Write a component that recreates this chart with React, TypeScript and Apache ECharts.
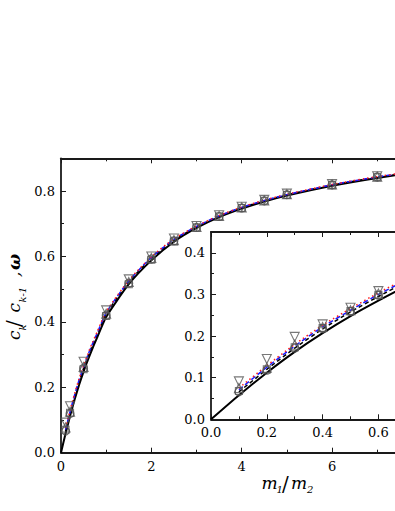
import React, { useEffect, useRef } from "react";
import * as echarts from "echarts";

// ---------- data ----------
// theory (black solid)
const xTheory = [0, 0.1, 0.2, 0.3, 0.4, 0.5, 0.6, 0.7, 0.8, 1, 1.5, 2, 2.5, 3, 3.5, 4, 4.5, 5, 6, 7, 8];
const yTheory = [0, 0.058, 0.112, 0.162, 0.207, 0.248, 0.285, 0.32, 0.352, 0.415, 0.515, 0.588, 0.645, 0.687, 0.72, 0.746, 0.768, 0.786, 0.816, 0.84, 0.86];
// simulation curves
const xSim = [0.1, 0.2, 0.3, 0.4, 0.5, 0.6, 0.7, 0.8, 1, 1.5, 2, 2.5, 3, 3.5, 4, 4.5, 5, 6, 7, 8];
const yBlackDashed = [0.066, 0.12, 0.171, 0.217, 0.258, 0.295, 0.33, 0.361, 0.424, 0.522, 0.594, 0.65, 0.69, 0.723, 0.749, 0.77, 0.788, 0.818, 0.842, 0.861];
const yBlueDashed = [0.071, 0.125, 0.176, 0.222, 0.262, 0.3, 0.334, 0.365, 0.428, 0.525, 0.597, 0.652, 0.692, 0.724, 0.75, 0.771, 0.789, 0.819, 0.843, 0.862];
const yRedDotted = [0.075, 0.129, 0.18, 0.226, 0.266, 0.304, 0.338, 0.369, 0.431, 0.527, 0.599, 0.654, 0.693, 0.725, 0.751, 0.772, 0.79, 0.82, 0.844, 0.863];
// markers, main panel
const xMarkMain = [0.1, 0.2, 0.5, 1, 1.5, 2, 2.5, 3, 3.5, 4, 4.5, 5, 6, 7];
const yDownMain = [0.092, 0.142, 0.278, 0.435, 0.53, 0.6, 0.655, 0.693, 0.726, 0.752, 0.773, 0.792, 0.821, 0.845];
const yUpMain = [0.077, 0.125, 0.262, 0.425, 0.522, 0.595, 0.65, 0.69, 0.724, 0.75, 0.771, 0.79, 0.82, 0.844];
const yCircleMain = [0.066, 0.12, 0.258, 0.42, 0.518, 0.592, 0.648, 0.689, 0.722, 0.748, 0.77, 0.789, 0.819, 0.843];
const ySquareMain = [0.07, 0.122, 0.255, 0.418, 0.515, 0.59, 0.646, 0.688, 0.722, 0.748, 0.77, 0.788, 0.818, 0.842];
// markers, inset
const xMarkInset = [0.1, 0.2, 0.3, 0.4, 0.5, 0.6];
const yDownInset = [0.091, 0.145, 0.198, 0.228, 0.268, 0.308];
const yUpInset = [0.075, 0.124, 0.179, 0.222, 0.262, 0.302];
const yCircleInset = [0.066, 0.118, 0.171, 0.218, 0.259, 0.298];
const ySquareInset = [0.068, 0.12, 0.173, 0.219, 0.26, 0.299];

const FONT = "DejaVu Serif";
const AXIS_COLOR = "#1a1a1a";
const MARK_COLOR = "#555";

const zip = (xs: number[], ys: number[]) => xs.map((x, i) => [x, ys[i]]);

function linesFor(xi: number, yi: number) {
  return [
    { type: "line", xAxisIndex: xi, yAxisIndex: yi, data: zip(xTheory, yTheory), showSymbol: false, smooth: 0.2, lineStyle: { color: "#000", width: 2 }, z: 3 },
    { type: "line", xAxisIndex: xi, yAxisIndex: yi, data: zip(xSim, yBlackDashed), showSymbol: false, smooth: 0.2, lineStyle: { color: "#000", width: 1.5, type: [4, 3] }, z: 3 },
    { type: "line", xAxisIndex: xi, yAxisIndex: yi, data: zip(xSim, yBlueDashed), showSymbol: false, smooth: 0.2, lineStyle: { color: "#1a1aff", width: 1.5, type: [5, 3] }, z: 4 },
    { type: "line", xAxisIndex: xi, yAxisIndex: yi, data: zip(xSim, yRedDotted), showSymbol: false, smooth: 0.2, lineStyle: { color: "#ff1a1a", width: 1.5, type: [1.5, 3] }, z: 5 },
  ];
}

function marksFor(xi: number, yi: number, xs: number[], down: number[], up: number[], circ: number[], sq: number[]) {
  const base = { type: "scatter", xAxisIndex: xi, yAxisIndex: yi, symbolSize: 8, itemStyle: { color: "rgba(255,255,255,0)", borderColor: MARK_COLOR, borderWidth: 1.1 }, z: 6 };
  return [
    { ...base, data: zip(xs, sq), symbol: "rect", symbolSize: 7 },
    { ...base, data: zip(xs, circ), symbol: "circle" },
    { ...base, data: zip(xs, up), symbol: "triangle", symbolSize: 9 },
    { ...base, data: zip(xs, down), symbol: "triangle", symbolRotate: 180, symbolSize: 9 },
  ];
}

const tickLabel = { color: "#000", fontFamily: FONT, fontSize: 13 };

function xAxisPair(grid: number, max: number, interval: number, fmt: (v: number) => string) {
  const common = {
    type: "value", gridIndex: grid, min: 0, max, interval,
    axisLine: { show: true, onZero: false, lineStyle: { color: AXIS_COLOR, width: 1.8 } },
    axisTick: { show: true, inside: true, length: 5, lineStyle: { color: AXIS_COLOR, width: 1 } },
    minorTick: { show: true, splitNumber: 2, length: 3, lineStyle: { color: AXIS_COLOR, width: 1 } },
    splitLine: { show: false },
  };
  return [
    { ...common, position: "bottom", axisLabel: { ...tickLabel, margin: 7, formatter: fmt, showMaxLabel: false } },
    { ...common, position: "top", axisLabel: { show: false }, z: 5 },
  ];
}

function yAxisPair(grid: number, max: number, minorInt: number, labelEvery: number, fmt: (v: number) => string) {
  return [
    {
      type: "value", gridIndex: grid, min: 0, max, interval: minorInt, position: "left",
      axisLine: { show: true, onZero: false, lineStyle: { color: AXIS_COLOR, width: 1.8 } },
      axisTick: { show: true, inside: true, length: 3, lineStyle: { color: AXIS_COLOR, width: 1 } },
      splitLine: { show: false },
      axisLabel: {
        ...tickLabel, margin: 6, showMaxLabel: false,
        formatter: (v: number) => (Math.round(v / minorInt) % labelEvery === 0 ? fmt(v) : ""),
      },
    },
    {
      type: "value", gridIndex: grid, min: 0, max, interval: minorInt * labelEvery, position: "left",
      axisLine: { show: false, onZero: false },
      axisTick: { show: true, inside: true, length: 5, lineStyle: { color: AXIS_COLOR, width: 1 } },
      splitLine: { show: false },
      axisLabel: { show: false },
    },
  ];
}

function App() {
  const ref = useRef<HTMLDivElement>(null);
  useEffect(() => {
    if (!ref.current) return;
    const chart = echarts.init(ref.current, null, { renderer: "svg" });
    const it = (s: number) => `italic ${s}px "${FONT}"`;
    const option: any = {
      animation: false,
      backgroundColor: "#fff",
      grid: [
        { left: 61, top: 158.3, width: 361.4, height: 294.4, show: false, outerBoundsMode: "none", containLabel: false },
        { left: 211, top: 232, width: 223.2, height: 187.3, show: false, outerBoundsMode: "none", containLabel: false },
      ],
      xAxis: [
        ...xAxisPair(0, 8, 2, (v: number) => String(v)),
        ...xAxisPair(1, 0.8, 0.2, (v: number) => v.toFixed(1)),
      ],
      yAxis: [
        ...yAxisPair(0, 0.9, 0.1, 2, (v: number) => v.toFixed(1)),
        ...yAxisPair(1, 0.45, 0.05, 2, (v: number) => v.toFixed(1)),
      ],
      series: [
        ...linesFor(0, 0),
        ...marksFor(0, 0, xMarkMain, yDownMain, yUpMain, yCircleMain, ySquareMain),
        ...linesFor(2, 2),
        ...marksFor(2, 2, xMarkInset, yDownInset, yUpInset, yCircleInset, ySquareInset),
      ],
      graphic: [
        {
          type: "group", x: 13.8, y: 340, rotation: Math.PI / 2,
          children: [
            { type: "text", x: 0, y: 0, style: { text: "c", font: it(17), fill: "#000", textVerticalAlign: "middle" } },
            { type: "text", x: 9.5, y: 9, style: { text: "k", font: it(10), fill: "#000", textVerticalAlign: "middle" } },
            { type: "text", x: 13, y: 0.5, style: { text: "/", font: `20px "${FONT}"`, fill: "#000", textVerticalAlign: "middle" } },
            { type: "text", x: 27.5, y: 0, style: { text: "c", font: it(17), fill: "#000", textVerticalAlign: "middle" } },
            { type: "text", x: 37.5, y: 9, style: { text: "k-1", font: it(10), fill: "#000", textVerticalAlign: "middle" } },
            { type: "text", x: 63, y: 0, style: { text: ",", font: it(17), fill: "#000", textVerticalAlign: "middle" } },
            { type: "text", x: 70, y: 0, style: { text: "ω", font: `italic bold 17px "${FONT}"`, fill: "#000", textVerticalAlign: "middle" } },
          ],
        },
        { type: "text", x: 261.5, y: 482.8, style: { text: "m", font: it(17), fill: "#000", textVerticalAlign: "middle" } },
        { type: "text", x: 276.5, y: 489.7, style: { text: "1", font: it(10), fill: "#000", textVerticalAlign: "middle" } },
        { type: "text", x: 282, y: 483.5, style: { text: "/", font: `20px "${FONT}"`, fill: "#000", textVerticalAlign: "middle" } },
        { type: "text", x: 291, y: 482.8, style: { text: "m", font: it(17), fill: "#000", textVerticalAlign: "middle" } },
        { type: "text", x: 307, y: 489.7, style: { text: "2", font: it(10), fill: "#000", textVerticalAlign: "middle" } },
      ],
    };
    chart.setOption(option);
    return () => chart.dispose();
  }, []);
  return (
    <div
      ref={ref}
      style={{ position: "fixed", left: 0, top: 0, width: 395, height: 511, overflow: "hidden" }}
    />
  );
}

export default App;
